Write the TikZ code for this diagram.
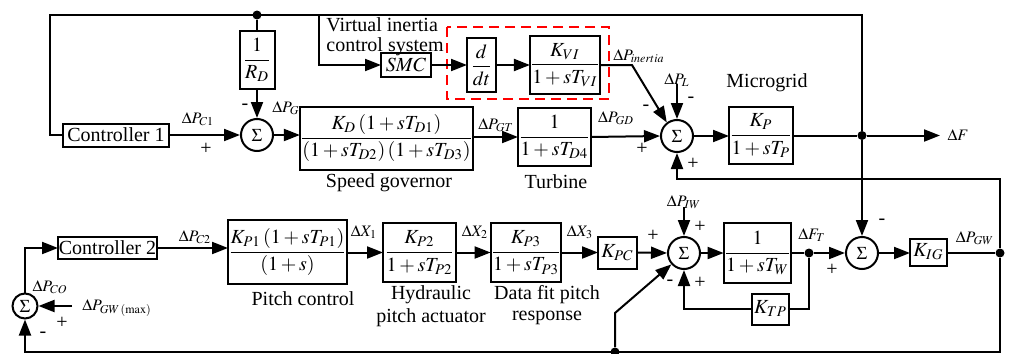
\documentclass[tikz,border=0pt]{standalone}
\usepackage{amsmath}
\usepackage{mathptmx}
\usepackage{fontspec}
\setmainfont{Liberation Serif}
\usetikzlibrary{arrows.meta}
\begin{document}
\begin{tikzpicture}[x=0.5pt,y=-0.5pt,
  every node/.style={font=\fontsize{10}{12}\selectfont},
  blk/.style={draw, line width=1pt, inner sep=0pt, outer sep=0pt},
  sumnode/.style={draw, circle, line width=1pt, inner sep=0pt, minimum size=16pt, font=\fontsize{9}{9}\selectfont},
  dot/.style={circle, fill, inner sep=0pt, minimum size=4.5pt},
  lbl/.style={font=\fontsize{8}{9}\selectfont, inner sep=0pt},
  sgn/.style={font=\fontsize{10}{10}\selectfont, inner sep=0pt},
  txt/.style={inner sep=0pt},
  ln/.style={line width=1pt},
  arr/.style={line width=1pt, -{Triangle[length=8pt,width=6pt]}},
  redbox/.style={draw=red, dash pattern=on 5pt off 3pt, line width=1pt}
]
\useasboundingbox (0,0) rectangle (1009,354);

% ---------- top row ----------
\node[blk, minimum width=53pt, minimum height=11.5pt] (c1) at (116,135) {Controller 1};
\node[blk, minimum width=17.5pt, minimum height=29pt] (rd) at (257,60) {$\displaystyle\frac{1}{R_D}$};
\node[sumnode] (s1) at (257,135) {$\Sigma$};
\node[blk, minimum width=83.5pt, minimum height=31.5pt] (sg) at (386.5,138) {$\displaystyle\frac{K_D\left(1+sT_{D1}\right)}{\left(1+sT_{D2}\right)\left(1+sT_{D3}\right)}$};
\node[blk, minimum width=36.5pt, minimum height=29pt] (tb) at (554.5,137) {$\displaystyle\frac{1}{1+sT_{D4}}$};
\node[blk, minimum width=25pt, minimum height=12pt] (smc) at (406,65) {$SMC$};
\node[blk, minimum width=14.5pt, minimum height=27pt] (ddt) at (481.5,65) {$\displaystyle\frac{d}{dt}$};
\node[blk, minimum width=34pt, minimum height=29pt] (kvi) at (565,65) {$\displaystyle\frac{K_{VI}}{1+sT_{VI}}$};
\node[sumnode] (s2) at (677,136) {$\Sigma$};
\node[blk, minimum width=32pt, minimum height=28.5pt] (kp) at (761,135.5) {$\displaystyle\frac{K_P}{1+sT_P}$};
\node[dot] (d1) at (257,15) {};
\node[dot] (d2) at (862,135.5) {};
\draw[redbox] (447,27) rectangle (609,99);

\coordinate (tl) at (50,15);
\coordinate (tr) at (862,15);
\coordinate (vt) at (319,15);
\coordinate (ib) at (632,65);
\coordinate (pl) at (677,84);
\coordinate (fo) at (940,135.5);

\draw[ln] (c1.west) -| (tl) -- (tr) -- (d2);
\draw[ln] (d1) -- (rd.north);
\draw[arr] (rd.south) -- (s1.north);
\draw[arr] (c1.east) -- (s1.west);
\draw[arr] (s1.east) -- (s1.east -| sg.west);
\draw[arr] (sg.east |- tb.west) -- (tb.west);
\draw[arr] (tb.east) -- (s2.west);
\draw[arr] (vt) |- (smc.west);
\draw[arr] (smc.east) -- (ddt.west);
\draw[arr] (ddt.east) -- (kvi.west);
\draw[arr] (kvi.east) -- (ib) -- (s2.127);
\draw[arr] (pl) -- (s2.north);
\draw[arr] (s2.east) -- (s2.east -| kp.west);
\draw[ln] (kp.east) -- (d2);
\draw[arr] (d2) -- (fo);

% top labels
\node[txt, anchor=west] (tv1) at (326,25) {Virtual inertia};
\node[txt, anchor=west] (tv2) at (326,47) {control system};
\node[lbl] (l1) at (198,119) {$\Delta P_{C1}$};
\node[sgn] (p1) at (206,149) {+};
\node[sgn] (m1) at (245,107) {-};
\node[lbl] (l2) at (286,108) {$\Delta P_{G}$};
\node[lbl] (l3) at (496,125) {$\Delta P_{GT}$};
\node[lbl] (l4) at (616,118) {$\Delta P_{GD}$};
\node[lbl] (l5) at (639,56) {$\Delta P_{inertia}$};
\node[lbl] (l6) at (677,80) {$\Delta P_{L}$};
\node[sgn] (m2) at (691,100) {-};
\node[sgn] (m3) at (646,108) {-};
\node[sgn] (p2) at (642,149) {+};
\node[sgn] (p3) at (693,164) {+};
\node[txt] (tm) at (767,83) {Microgrid};
\node[lbl] (l7) at (958,135) {$\Delta F$};
\node[txt] (tsg) at (389,183) {Speed governor};
\node[txt] (ttb) at (556,182) {Turbine};

% ---------- bottom row ----------
\node[sumnode, minimum size=12.5pt] (s5) at (25,306) {$\Sigma$};
\node[blk, minimum width=49.5pt, minimum height=11pt] (c2) at (107.5,248) {Controller 2};
\node[blk, minimum width=59.5pt, minimum height=32pt] (pc) at (287.5,252) {$\displaystyle\frac{K_{P1}\left(1+sT_{P1}\right)}{\left(1+s\right)}$};
\node[blk, minimum width=36.5pt, minimum height=29.5pt] (ha) at (419.5,252.5) {$\displaystyle\frac{K_{P2}}{1+sT_{P2}}$};
\node[blk, minimum width=33pt, minimum height=29.5pt] (df) at (526,252.5) {$\displaystyle\frac{K_{P3}}{1+sT_{P3}}$};
\node[blk, minimum width=19.5pt, minimum height=16pt] (kpc) at (617.5,252.5) {$K_{PC}$};
\node[sumnode] (s3) at (684,253) {$\Sigma$};
\node[blk, minimum width=32.5pt, minimum height=30pt] (tw) at (757.5,253) {$\displaystyle\frac{1}{1+sT_{W}}$};
\node[blk, minimum width=18.5pt, minimum height=15.5pt] (ktp) at (770.5,309) {$K_{TP}$};
\node[sumnode] (s4) at (862,253) {$\Sigma$};
\node[blk, minimum width=18.5pt, minimum height=13.5pt] (kig) at (928.5,252) {$K_{IG}$};
\node[dot] (d3) at (809,253) {};
\node[dot] (d4) at (1000,253) {};
\node[dot] (d5) at (615,352) {};

\coordinate (gwm) at (72,306);
\coordinate (br) at (1000,352);
\coordinate (mr) at (1000,179);
\coordinate (dg) at (615,313);
\coordinate (piw) at (684,207);

\draw[arr] (s5.north) |- (c2.west);
\draw[arr] (gwm) -- (s5.east);
\draw[arr] (c2.east) -- (c2.east -| pc.west);
\draw[arr] (pc.east |- ha.west) -- (ha.west);
\draw[arr] (ha.east) -- (df.west);
\draw[arr] (df.east) -- (kpc.west);
\draw[arr] (kpc.east) -- (s3.west);
\draw[arr] (piw) -- (s3.north);
\draw[arr] (s3.east) -- (tw.west);
\draw[ln] (tw.east) -- (d3);
\draw[arr] (d3) -- (s4.west);
\draw[arr] (s4.east) -- (s4.east -| kig.west);
\draw[ln] (kig.east |- d4) -- (d4);
\draw[ln] (d3) |- (ktp.east);
\draw[arr] (ktp.west) -| (s3.south);
\draw[arr] (d2) -- (s4.north);
\draw[arr] (d4) -- (mr) -| (s2.south);
\draw[arr] (d4) -- (br) -| (s5.south);
\draw[arr] (d5) -- (dg) -- (s3.222);

% bottom labels
\node[lbl] (l8) at (50,287) {$\Delta P_{CO}$};
\node[lbl] (l9) at (117,308) {$\Delta P_{GW\,(\mathrm{max})}$};
\node[sgn] (p4) at (62,323) {+};
\node[sgn] (m4) at (43,335) {-};
\node[lbl] (l10) at (195,237) {$\Delta P_{C2}$};
\node[txt] (tpc) at (303,299) {Pitch control};
\node[lbl] (l11) at (364,232) {$\Delta X_{1}$};
\node[txt] (th1) at (431,295) {Hydraulic};
\node[txt] (th2) at (431,318) {pitch actuator};
\node[lbl] (l12) at (475,232) {$\Delta X_{2}$};
\node[txt] (td1) at (547,295) {Data fit pitch};
\node[txt] (td2) at (547,318) {response};
\node[lbl] (l13) at (580,232) {$\Delta X_{3}$};
\node[sgn] (p5) at (653,236) {+};
\node[lbl] (l14) at (684,202) {$\Delta P_{IW}$};
\node[sgn] (p6) at (700,227) {+};
\node[sgn] (m5) at (670,283) {-};
\node[sgn] (p7) at (700,283) {+};
\node[lbl] (l15) at (812,235) {$\Delta F_{T}$};
\node[sgn] (p8) at (832,270) {+};
\node[sgn] (m6) at (882,222) {-};
\node[lbl] (l16) at (975,238) {$\Delta P_{GW}$};
\end{tikzpicture}
\end{document}
